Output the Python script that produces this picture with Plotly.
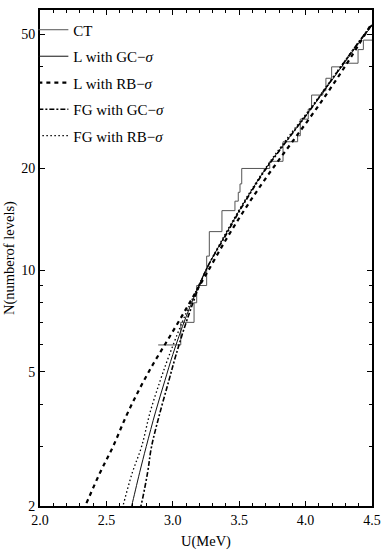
import plotly.graph_objects as go

# ---- data ----
ct_u = [2.89, 3.06, 3.16, 3.18, 3.255, 3.275, 3.37, 3.468, 3.493, 3.506, 3.519,
        3.73, 3.83, 3.94, 3.96, 4.02, 4.045, 4.13, 4.153, 4.196, 4.28, 4.395, 4.435, 4.5]
ct_n = [6, 7, 8, 9, 11, 13, 15, 16, 17, 18, 20,
        21, 24, 25, 28, 30, 33, 34, 37, 40, 41, 45, 48, 48]

lgc_u = [2.66, 2.69, 2.75, 2.80, 2.87, 2.94, 3.00, 3.10, 3.25, 3.40, 3.50, 3.60,
         3.70, 3.80, 3.90, 4.00, 4.10, 4.20, 4.30, 4.40, 4.50]
lgc_n = [1.80, 2.00, 2.51, 3.00, 3.80, 4.70, 5.62, 7.27, 10.0, 12.8, 15.0, 17.4,
         20.0, 22.6, 25.4, 28.6, 32.3, 36.6, 41.5, 47.0, 53.0]

lrb_u = [2.30, 2.34, 2.45, 2.55, 2.65, 2.75, 2.85, 2.95, 3.05, 3.15, 3.25, 3.40,
         3.55, 3.72, 3.90, 4.10, 4.30, 4.50]
lrb_n = [1.85, 2.0, 2.5, 3.0, 3.7, 4.45, 5.25, 6.1, 7.1, 8.3, 9.7, 12.3,
         15.3, 19.2, 24.0, 30.8, 40.3, 54.0]

fgc_u = [2.73, 2.76, 2.81, 2.84, 2.905, 2.97, 3.025, 3.115, 3.25, 3.40, 3.50, 3.60,
         3.70, 3.80, 3.90, 4.00, 4.10, 4.20, 4.30, 4.40, 4.50]
fgc_n = [1.82, 2.0, 2.51, 3.0, 3.8, 4.7, 5.62, 7.27, 10.0, 12.7, 14.9, 17.3,
         19.9, 22.5, 25.4, 28.6, 32.4, 36.8, 41.8, 47.4, 53.4]

frb_u = [2.60, 2.625, 2.695, 2.765, 2.83, 2.905, 2.975, 3.088, 3.25, 3.40, 3.50, 3.60,
         3.70, 3.80, 3.90, 4.00, 4.10, 4.20, 4.30, 4.40, 4.50]
frb_n = [1.82, 2.0, 2.51, 3.0, 3.8, 4.7, 5.62, 7.27, 10.0, 12.9, 15.1, 17.5,
         20.1, 22.8, 25.7, 28.9, 32.6, 37.0, 41.9, 47.4, 53.3]

x_ticks = [2.0, 2.5, 3.0, 3.5, 4.0, 4.5]
x_labels = ["2.0", "2.5", "3.0", "3.5", "4.0", "4.5"]
x_minor = [2.1, 2.2, 2.3, 2.4, 2.6, 2.7, 2.8, 2.9, 3.1, 3.2, 3.3, 3.4,
           3.6, 3.7, 3.8, 3.9, 4.1, 4.2, 4.3, 4.4]
y_ticks = [2, 5, 10, 20, 50]
y_minor = [3, 4, 6, 7, 8, 9, 30, 40]

names = ["CT", "L with GC\u2212<i>σ</i>", "L with RB\u2212<i>σ</i>",
         "FG with GC\u2212<i>σ</i>", "FG with RB\u2212<i>σ</i>"]

FONT = "Liberation Serif"

fig = go.Figure()
fig.add_trace(go.Scatter(x=ct_u, y=ct_n, mode="lines", name=names[0], legendgroup="a",
                         line=dict(color="#555555", width=1, shape="hv")))
fig.add_trace(go.Scatter(x=lgc_u, y=lgc_n, mode="lines", name=names[1], legendgroup="b",
                         line=dict(color="#111111", width=1, shape="spline")))
fig.add_trace(go.Scatter(x=lrb_u, y=lrb_n, mode="lines", name=names[2], legendgroup="c",
                         line=dict(color="black", width=2.2, dash="4px,4px", shape="spline")))
fig.add_trace(go.Scatter(x=fgc_u, y=fgc_n, mode="lines", name=names[3], legendgroup="d",
                         line=dict(color="black", width=1.6, dash="5px,2px,2px,2px", shape="spline")))
fig.add_trace(go.Scatter(x=frb_u, y=frb_n, mode="lines", name=names[4], legendgroup="e",
                         line=dict(color="black", width=1.3, dash="1.5px,2.5px", shape="spline")))

axis_common = dict(showgrid=False, zeroline=False, showline=True, linecolor="black",
                   linewidth=2, mirror="allticks", ticks="inside", ticklen=5,
                   tickwidth=1, tickcolor="black", automargin=False,
                   tickfont=dict(family=FONT, size=14, color="black"))

fig.update_layout(
    width=381, height=551,
    margin=dict(l=40, r=9, t=10, b=45),
    paper_bgcolor="white", plot_bgcolor="white",
    font=dict(family=FONT, size=14, color="black"),
    showlegend=True,
    legend=dict(x=-0.02, y=0.993, xanchor="left", yanchor="top",
                bgcolor="rgba(0,0,0,0)", tracegroupgap=4,
                font=dict(family=FONT, size=15, color="black")),
    xaxis=dict(range=[2.0, 4.5], tickvals=x_ticks, ticktext=x_labels,
               minor=dict(tickvals=x_minor, ticklen=3, ticks="inside", tickcolor="black"),
               **axis_common),
    yaxis=dict(type="log", range=[0.30103, 1.7705], tickvals=y_ticks,
               ticktext=[str(v) for v in y_ticks],
               minor=dict(tickvals=y_minor, ticklen=3, ticks="inside", tickcolor="black"),
               **axis_common),
    annotations=[
        dict(text="U(MeV)", xref="paper", yref="paper", x=0.5, y=0, yshift=-35,
             xanchor="center", yanchor="middle", showarrow=False,
             font=dict(family=FONT, size=14.5, color="black")),
        dict(text="N(numberof levels)", xref="paper", yref="paper", x=0, xshift=-31,
             y=0.5, xanchor="center", yanchor="middle", textangle=-90, showarrow=False,
             font=dict(family=FONT, size=14.5, color="black")),
    ],
)

fig.write_html("out.html", config={"displayModeBar": False},
               post_script="document.body.style.margin='0';")
